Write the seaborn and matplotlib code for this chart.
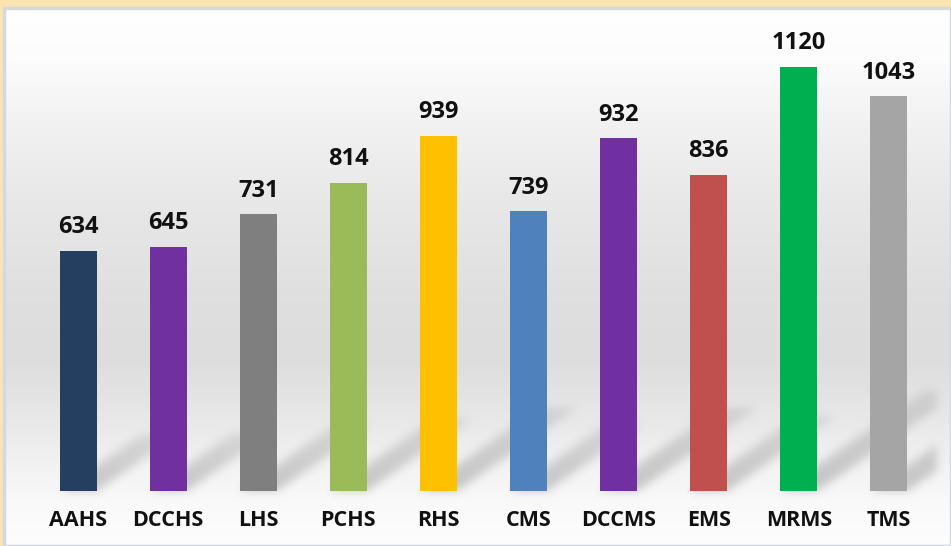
import numpy as np
import pandas as pd
import matplotlib
matplotlib.use("Agg")
import matplotlib.pyplot as plt
from matplotlib.patches import Rectangle
import seaborn as sns

categories = ["AAHS", "DCCHS", "LHS", "PCHS", "RHS", "CMS", "DCCMS", "EMS", "MRMS", "TMS"]
values = [634, 645, 731, 814, 939, 739, 932, 836, 1120, 1043]
colors = ["#243F60", "#7030A0", "#7F7F7F", "#9BBB59", "#FFC000",
          "#4F81BD", "#7030A0", "#C0504D", "#00B050", "#A5A5A5"]

df = pd.DataFrame({"school": categories, "count": values})

sns.set_theme(style="white")
plt.rcParams["font.family"] = ["Open Sans", "DejaVu Sans"]

W, H = 951, 546
DPI = 100
fig = plt.figure(figsize=(W / DPI, H / DPI), dpi=DPI)
fig.patch.set_facecolor("#FCE4B0")

# background panel with vertical gradient
bg = fig.add_axes([4 / W, 0, 1 - 4 / W, 538 / H])
ys = np.array([8, 60, 120, 200, 300, 360, 420, 470, 500, 546])
vs = np.array([255, 252, 242, 232, 223, 221, 232, 243, 249, 253]) / 255.0
rows = np.interp(np.arange(8, 547), ys, vs)
img = np.repeat(rows[:, None], 4, axis=1)
img = np.dstack([img, img, img])
bg.imshow(img, aspect="auto", extent=[0, 1, 0, 1], interpolation="bilinear")
bg.set_xlim(0, 1)
bg.set_ylim(0, 1)
bg.axis("off")
bg.add_patch(Rectangle((0, 0), 1, 1, transform=bg.transAxes, fill=False,
                       edgecolor="#D5D9DF", linewidth=2.5, clip_on=False))

# layer for soft shadows (full figure, pixel space)
sh_ax = fig.add_axes([0, 0, 1, 1])
sh_ax.axis("off")

ax = fig.add_axes([33 / W, 55 / H, 901 / W, 454 / H])
ax.patch.set_alpha(0)

bw = 0.41
sns.barplot(data=df, x="school", y="count", hue="school", palette=colors,
            width=bw, legend=False, ax=ax, saturation=1, linewidth=0,
            edgecolor="none", zorder=3)
ax.set_ylim(0, 1200)
ax.set_xlim(-0.5, 9.5)

# build blurred perspective shadows from the bar geometry
X, Y = np.meshgrid(np.arange(W) + 0.5, np.arange(H) + 0.5)
Yd = H - Y  # display coords (origin bottom-left)
alpha = np.zeros((H, W))
for i, v in enumerate(values):
    (xl, y0), (xr, _), (xt, yt) = ax.transData.transform(
        [(i - bw / 2, 0), (i + bw / 2, 0), (i - bw / 2 + 0.00142 * v, 0.235 * v)])
    DX, DY = xt - xl, yt - y0
    t = (Yd - y0) / DY
    s = (X - xl - t * DX) / (xr - xl)
    m = (t >= 0) & (t <= 1) & (s >= 0) & (s <= 1)
    val = 0.27 * (1 - 0.55 * t)
    alpha = np.maximum(alpha, np.where(m, val, 0))
clip_x = ax.transData.transform((9.5, 0))[0] + 3
alpha[:, X[0] > clip_x] = 0
sig = 4.5
k = np.arange(-14, 15)
ker = np.exp(-0.5 * (k / sig) ** 2)
ker /= ker.sum()
alpha = np.apply_along_axis(lambda r: np.convolve(r, ker, mode="same"), 1, alpha)
alpha = np.apply_along_axis(lambda c: np.convolve(c, ker, mode="same"), 0, alpha)
rgba = np.zeros((H, W, 4))
rgba[..., :3] = 0.25
rgba[..., 3] = alpha
sh_ax.imshow(rgba, extent=[0, 1, 0, 1], aspect="auto", interpolation="nearest")
sh_ax.set_xlim(0, 1)
sh_ax.set_ylim(0, 1)

for c in ax.containers:
    ax.bar_label(c, fmt="%d", padding=8.5, fontsize=17, fontweight="bold", color="#111111")

ax.set_xlabel("")
ax.set_ylabel("")
ax.set_yticks([])
ax.tick_params(axis="x", length=0, pad=14)
for lab in ax.get_xticklabels():
    lab.set_fontsize(15.5)
    lab.set_fontweight("bold")
    lab.set_color("#111111")
for s_ in ax.spines.values():
    s_.set_visible(False)

fig.savefig("out.png", dpi=DPI)
